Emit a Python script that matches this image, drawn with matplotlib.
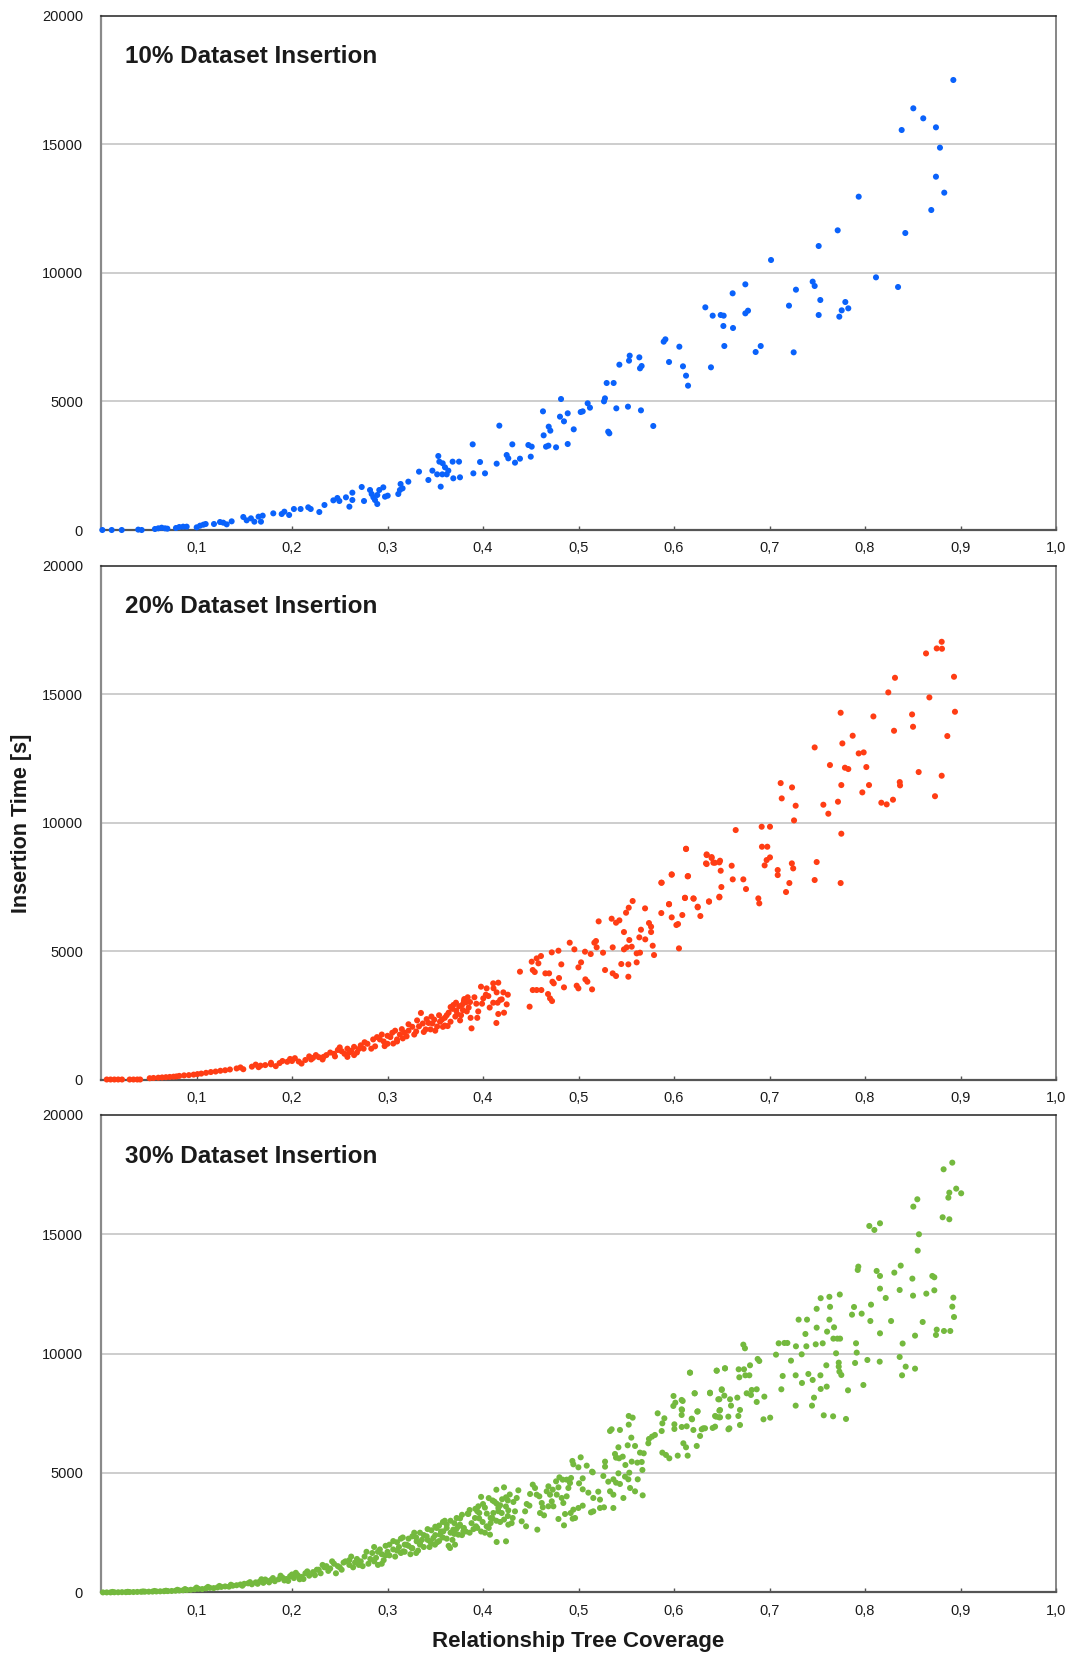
import matplotlib
matplotlib.use("Agg")
import matplotlib.pyplot as plt

plt.rcParams['font.family'] = ['Liberation Sans', 'DejaVu Sans']

# ---------------- data ----------------
panel_titles = ["10% Dataset Insertion", "20% Dataset Insertion", "30% Dataset Insertion"]
panel_colors = ["#0a62fb", "#ff3d14", "#74b93e"]
x_ticks = [0.1, 0.2, 0.3, 0.4, 0.5, 0.6, 0.7, 0.8, 0.9, 1.0]
x_tick_labels = ["0,1", "0,2", "0,3", "0,4", "0,5", "0,6", "0,7", "0,8", "0,9", "1,0"]
y_ticks = [0, 5000, 10000, 15000, 20000]
y_tick_labels = ["0", "5000", "10000", "15000", "20000"]
x_label = "Relationship Tree Coverage"
y_label = "Insertion Time [s]"

pts10 = [
    (0.0014, 0), (0.0112, 0), (0.0217, 0), (0.039, 15), (0.0426, 0), (0.0565, 39), (0.06, 65),
    (0.0635, 90), (0.067, 65), (0.0695, 52), (0.0785, 78), (0.082, 117), (0.086, 130), (0.0897, 130),
    (0.1002, 104), (0.1037, 168), (0.1072, 207), (0.1096, 233), (0.1183, 233), (0.1246, 311),
    (0.128, 285), (0.1316, 220), (0.1368, 337), (0.149, 506), (0.1525, 376), (0.157, 454),
    (0.1606, 324), (0.165, 519), (0.1675, 324), (0.1693, 558), (0.1804, 648), (0.1892, 622),
    (0.192, 713), (0.197, 584), (0.202, 817), (0.209, 817), (0.217, 882), (0.2196, 817),
    (0.2286, 700), (0.234, 973), (0.2433, 1154), (0.2475, 1245), (0.2496, 1128), (0.2565, 1271),
    (0.2601, 908), (0.2632, 1453), (0.2632, 1167), (0.273, 1673), (0.2754, 1128), (0.2817, 1556),
    (0.2834, 1401), (0.2852, 1271), (0.2869, 1167), (0.2893, 1011), (0.2914, 1556), (0.2956, 1660),
    (0.2974, 1297), (0.3002, 1336), (0.2893, 1362), (0.3113, 1401), (0.313, 1556), (0.3158, 1621),
    (0.3137, 1790), (0.3218, 1881), (0.333, 2270), (0.3428, 1946), (0.347, 2309), (0.3532, 2879),
    (0.3543, 2659), (0.3578, 2595), (0.3602, 2439), (0.352, 2166), (0.3557, 1686), (0.3574, 2166),
    (0.362, 2166), (0.3637, 2309), (0.3682, 2659), (0.3689, 2011), (0.3749, 2659), (0.3759, 2050),
    (0.3892, 3333), (0.3899, 2205), (0.3969, 2646), (0.4021, 2205), (0.4143, 2581), (0.4171, 4060),
    (0.4248, 2918), (0.4265, 2788), (0.4307, 3333), (0.4335, 2620), (0.4387, 2775), (0.4475, 3307),
    (0.451, 3243), (0.45, 2853), (0.466, 3243), (0.4685, 3282), (0.4765, 3217), (0.4887, 3346),
    (0.8925, 17510), (0.8506, 16408), (0.861, 16018), (0.8384, 15564), (0.8743, 15668),
    (0.8785, 14877), (0.8743, 13748), (0.883, 13126), (0.8694, 12451), (0.8422, 11556),
    (0.7934, 12970), (0.7714, 11660), (0.7515, 11050), (0.7016, 10506), (0.8115, 9831),
    (0.8346, 9455), (0.7452, 9663), (0.7473, 9494), (0.7277, 9351), (0.7532, 8949), (0.7204, 8729),
    (0.7515, 8366), (0.7794, 8871), (0.7756, 8547), (0.7825, 8625), (0.7731, 8301), (0.7253, 6913),
    (0.6747, 9559), (0.6614, 9209), (0.6775, 8534), (0.6747, 8430), (0.6328, 8664), (0.6405, 8340),
    (0.6489, 8366), (0.652, 8340), (0.6517, 7938), (0.6618, 7860), (0.6527, 7159), (0.6908, 7159),
    (0.6855, 6926), (0.6387, 6330), (0.6056, 7133), (0.5892, 7328), (0.591, 7419), (0.5948, 6537),
    (0.6094, 6369), (0.6126, 6005), (0.6147, 5616), (0.5428, 6433), (0.5529, 6589), (0.5536, 6784),
    (0.5637, 6718), (0.5644, 6291), (0.5661, 6381), (0.5295, 5720), (0.5368, 5720), (0.5277, 5123),
    (0.5267, 5006), (0.4817, 5097), (0.5396, 4734), (0.5518, 4799), (0.5654, 4656), (0.5783, 4047),
    (0.5323, 3761), (0.5311, 3826), (0.5096, 4929), (0.512, 4760), (0.5023, 4591), (0.5044, 4617),
    (0.4887, 4540), (0.4806, 4410), (0.4848, 4228), (0.4628, 4617), (0.495, 3917), (0.4688, 4021),
    (0.4705, 3865), (0.4635, 3683),
]

pts20 = [
    (0.006, 0), (0.010, 0), (0.014, 0), (0.018, 0), (0.022, 0), (0.030, 0), (0.034, 0), (0.038, 0),
    (0.041, 0), (0.051, 50), (0.055, 60), (0.060, 70), (0.064, 80), (0.068, 90), (0.072, 100),
    (0.076, 110), (0.079, 120), (0.082, 140), (0.087, 160), (0.092, 170), (0.097, 190), (0.101, 210),
    (0.105, 230), (0.110, 260), (0.115, 290), (0.120, 310), (0.125, 340), (0.130, 360), (0.135, 390),
    (0.142, 430), (0.146, 470), (0.149, 400), (0.158, 500), (0.162, 580), (0.167, 540), (0.172, 560),
    (0.178, 590), (0.183, 520), (0.187, 640), (0.190, 720), (0.195, 690), (0.198, 800),
    (0.203, 830), (0.207, 700), (0.210, 620), (0.214, 760), (0.218, 900), (0.222, 840), (0.225, 950),
    (0.228, 870), (0.232, 780), (0.236, 950), (0.240, 1050), (0.244, 1000), (0.248, 1150),
    (0.252, 1100), (0.255, 1000), (0.258, 1200), (0.262, 1120), (0.265, 1270), (0.268, 1050),
    (0.270, 1190), (0.265, 950), (0.258, 880), (0.272, 1330), (0.279, 1390), (0.285, 1560),
    (0.287, 1290), (0.292, 1560), (0.296, 1480), (0.300, 1700), (0.303, 1650), (0.305, 1820),
    (0.308, 1900), (0.310, 1560), (0.313, 1750), (0.315, 1960), (0.318, 1820), (0.300, 1390),
    (0.297, 1300), (0.310, 1480), (0.320, 1680), (0.322, 1900), (0.326, 2050), (0.330, 1870),
    (0.333, 2070), (0.337, 2180), (0.340, 1950), (0.343, 2200), (0.347, 2180), (0.349, 2330),
    (0.352, 2060), (0.355, 2250), (0.357, 2330), (0.360, 2400), (0.360, 2100), (0.335, 2590),
    (0.345, 1950), (0.363, 2080), (0.364, 2600), (0.368, 2750), (0.372, 2680), (0.375, 2850),
    (0.378, 2900), (0.382, 3000), (0.385, 2800), (0.388, 1990), (0.371, 2450), (0.377, 2500),
    (0.380, 3050), (0.383, 2650), (0.376, 2300), (0.394, 2400), (0.414, 2200), (0.416, 2550),
    (0.395, 2650),
    (0.283, 1200), (0.289, 1650), (0.294, 1750), (0.306, 1400), (0.316, 1600), (0.322, 2150),
    (0.328, 1750), (0.331, 2300), (0.338, 1850), (0.341, 2350), (0.346, 2450), (0.350, 1900),
    (0.354, 2500), (0.358, 2050), (0.362, 2500), (0.366, 2250), (0.369, 2900), (0.373, 2550),
    (0.379, 2700), (0.384, 3200), (0.387, 2400), (0.391, 3200), (0.393, 2950), (0.399, 2950),
    (0.403, 3300), (0.407, 2800), (0.411, 3550), (0.418, 3100), (0.422, 2600), (0.426, 3300),
    (0.245, 900), (0.250, 1250), (0.260, 1050), (0.275, 1200), (0.276, 1450), (0.220, 780),
    (0.233, 880), (0.200, 720), (0.178, 650), (0.165, 480),
    (0.3979, 3612), (0.4038, 3547), (0.4107, 3742), (0.416, 3768), (0.4143, 3391), (0.4213, 3391),
    (0.4003, 3157), (0.4056, 3248), (0.4107, 2989), (0.4153, 2989), (0.4196, 3118), (0.4248, 2924),
    (0.3717, 2989), (0.3804, 3131), (0.3864, 3014), (0.3661, 2820),
    (0.6126, 8969), (0.6342, 8735), (0.6394, 8618), (0.6429, 8436), (0.6342, 8385), (0.6475, 8450),
    (0.5976, 7970), (0.6143, 7905), (0.5867, 7659), (0.6115, 7062), (0.6206, 7036), (0.6366, 6933),
    (0.6475, 7088), (0.5567, 6946), (0.5526, 6686), (0.5498, 6491), (0.5697, 6660), (0.5948, 6829),
    (0.6248, 6699), (0.5867, 6478), (0.6087, 6401), (0.6276, 6362), (0.5976, 6310), (0.6025, 6012),
    (0.6042, 6050), (0.5211, 6154), (0.5347, 6258), (0.5393, 6102), (0.5428, 6193), (0.5476, 5739),
    (0.5738, 6089), (0.5654, 5830), (0.576, 5947), (0.576, 5739), (0.5532, 5428), (0.5637, 5532),
    (0.5699, 5454), (0.5777, 5207), (0.5791, 4844), (0.6052, 5104), (0.5183, 5389), (0.5166, 5324),
    (0.519, 5143), (0.5358, 5143), (0.5476, 5065), (0.5504, 5143), (0.5557, 5168), (0.5609, 4909),
    (0.5644, 4935), (0.5609, 4559), (0.5448, 4494), (0.5522, 4481), (0.5522, 4000), (0.5257, 4935),
    (0.5278, 4261), (0.5358, 4131), (0.5393, 4027), (0.5128, 4883), (0.5068, 4974), (0.4908, 5324),
    (0.4957, 5065), (0.5027, 4559), (0.4999, 4364), (0.5072, 3897), (0.5093, 3806), (0.5142, 3508),
    (0.4981, 3651), (0.4999, 3547), (0.4820, 4481), (0.4796, 3949), (0.4848, 3586), (0.479, 5013),
    (0.4720, 4948), (0.4607, 4805), (0.4562, 4714), (0.458, 4520), (0.451, 4585), (0.4521, 4261),
    (0.4542, 4183), (0.4653, 4131), (0.4692, 4131), (0.4387, 4196), (0.4727, 3806), (0.4741, 3742),
    (0.4521, 3482), (0.4562, 3482), (0.4611, 3482), (0.4681, 3326), (0.4702, 3157), (0.4723, 3054),
    (0.4488, 2834),
    (0.8803, 17035), (0.8751, 16777), (0.8806, 16764), (0.8639, 16582), (0.8932, 15674),
    (0.8314, 15634), (0.8244, 15065), (0.8674, 14870), (0.7745, 14273), (0.8088, 14130),
    (0.8493, 14208), (0.8942, 14312), (0.8503, 13728), (0.8304, 13572), (0.8862, 13366),
    (0.7871, 13379), (0.7473, 12924), (0.7763, 13080), (0.7934, 12691), (0.7986, 12730),
    (0.7633, 12237), (0.779, 12134), (0.7825, 12082), (0.8014, 12160), (0.8562, 11965),
    (0.8803, 11822), (0.7752, 11459), (0.8042, 11459), (0.8364, 11575), (0.8367, 11446),
    (0.7972, 11174), (0.7117, 11536), (0.7236, 11368), (0.7128, 10940), (0.7274, 10655),
    (0.7257, 10084), (0.7564, 10694), (0.7616, 10344), (0.7717, 10811), (0.7752, 9566),
    (0.8171, 10772), (0.8227, 10707), (0.8293, 10889), (0.8733, 11025), (0.6646, 9708),
    (0.6918, 9838), (0.7005, 9838), (0.6921, 9059), (0.6977, 9059), (0.7005, 8644), (0.697, 8540),
    (0.6949, 8333), (0.6126, 8982), (0.6342, 8761), (0.6394, 8657), (0.6335, 8411), (0.6412, 8437),
    (0.6482, 8515), (0.6489, 8125), (0.6604, 8320), (0.6615, 7789), (0.6726, 7789), (0.6754, 7412),
    (0.6496, 7491), (0.6475, 7114), (0.6367, 6919), (0.6248, 6725), (0.6203, 7049), (0.6115, 7075),
    (0.6147, 7918), (0.5976, 7984), (0.5871, 7659), (0.5948, 6816), (0.6883, 7049), (0.6893, 6855),
    (0.7086, 8152), (0.7086, 7956), (0.7234, 8411), (0.7248, 8216), (0.7208, 7646), (0.7173, 7296),
    (0.7494, 8463), (0.7473, 7763), (0.7745, 7646),
]

pts30 = [
    (0.002, 0), (0.006, 0), (0.010, 0), (0.014, 5), (0.018, 5), (0.022, 10), (0.026, 10), (0.030, 15),
    (0.034, 15), (0.038, 20), (0.042, 25), (0.046, 30), (0.050, 30), (0.054, 35), (0.058, 40),
    (0.062, 45), (0.066, 50), (0.070, 55), (0.074, 60), (0.078, 70), (0.082, 80), (0.086, 90),
    (0.090, 100), (0.012, 20), (0.028, 25), (0.044, 40), (0.056, 60), (0.068, 70), (0.080, 110),
    (0.088, 140), (0.094, 110), (0.098, 130), (0.102, 150), (0.106, 140), (0.110, 170), (0.114, 190),
    (0.118, 180), (0.122, 210), (0.126, 230), (0.130, 250), (0.134, 240), (0.138, 280), (0.142, 300),
    (0.100, 200), (0.112, 230), (0.124, 270), (0.136, 320), (0.146, 330), (0.150, 360), (0.154, 380),
    (0.158, 340), (0.162, 420), (0.166, 450), (0.170, 400), (0.174, 480), (0.178, 520), (0.182, 470),
    (0.148, 280), (0.156, 430), (0.164, 360), (0.172, 540), (0.180, 600), (0.186, 550), (0.190, 620),
    (0.194, 560), (0.198, 680), (0.202, 600), (0.206, 720), (0.210, 650), (0.214, 800), (0.218, 700),
    (0.188, 700), (0.196, 480), (0.204, 820), (0.212, 560), (0.216, 880), (0.222, 850), (0.226, 950),
    (0.230, 800), (0.234, 1050), (0.238, 900), (0.224, 720), (0.232, 1150), (0.240, 1000),
    (0.244, 1200), (0.248, 1100), (0.252, 950), (0.256, 1300), (0.260, 1150), (0.264, 1050),
    (0.268, 1400), (0.246, 800), (0.254, 1250), (0.262, 1500), (0.266, 1250), (0.242, 1300),
    (0.272, 1300), (0.276, 1500), (0.280, 1200), (0.284, 1650), (0.288, 1450), (0.292, 1800),
    (0.296, 1350), (0.300, 1700), (0.274, 1100), (0.282, 1400), (0.290, 1150), (0.298, 1950),
    (0.302, 1550), (0.286, 1900), (0.278, 1700), (0.294, 1600), (0.306, 1800), (0.310, 2100),
    (0.314, 1650), (0.318, 2000), (0.322, 2250), (0.326, 1850), (0.330, 2300), (0.334, 2050),
    (0.338, 2400), (0.308, 1500), (0.316, 2300), (0.324, 1600), (0.332, 1750), (0.336, 2200),
    (0.312, 1900), (0.328, 2500), (0.342, 2200), (0.346, 2600), (0.350, 2400), (0.354, 2800),
    (0.358, 2300), (0.362, 2700), (0.366, 2500), (0.370, 2900), (0.344, 1900), (0.352, 2100),
    (0.360, 3000), (0.368, 2200), (0.356, 2550), (0.364, 1950), (0.372, 2650), (0.376, 3100),
    (0.380, 2700), (0.384, 3300), (0.388, 2900), (0.392, 3500), (0.396, 3100), (0.400, 3700),
    (0.404, 3300), (0.408, 2900), (0.412, 3800), (0.416, 3400), (0.420, 3900), (0.424, 3600),
    (0.428, 4100), (0.378, 2400), (0.386, 2500), (0.394, 2700), (0.402, 2500), (0.410, 3100),
    (0.418, 2950), (0.426, 3200), (0.398, 4000), (0.406, 3950), (0.414, 4300), (0.422, 4400),
    (0.302, 2000), (0.306, 2150), (0.310, 1750), (0.314, 2250), (0.318, 1700), (0.322, 1950),
    (0.326, 2350), (0.330, 1650), (0.334, 2500), (0.338, 1900), (0.342, 2650), (0.346, 2050),
    (0.350, 2750), (0.354, 2150), (0.358, 2950), (0.362, 2250), (0.366, 3000), (0.370, 2450),
    (0.374, 2750), (0.378, 3250), (0.382, 2550), (0.386, 3450), (0.390, 2650), (0.394, 3400),
    (0.398, 2550), (0.402, 3550), (0.406, 2700), (0.410, 3850), (0.414, 3000), (0.418, 3650),
    (0.422, 3050), (0.426, 3850), (0.430, 2900), (0.286, 1300), (0.290, 1700), (0.294, 1200),
    (0.298, 1550), (0.270, 1150), (0.260, 1350), (0.250, 1050), (0.236, 1100), (0.228, 950),
    (0.200, 750), (0.208, 550), (0.192, 500), (0.176, 420), (0.168, 550),
    (0.6168, 9201), (0.6447, 9285), (0.6534, 9383), (0.5995, 8225), (0.6217, 8337), (0.6377, 8365),
    (0.65, 8477), (0.6527, 8240), (0.6464, 8086), (0.6014, 7946), (0.5993, 7807), (0.6091, 8016),
    (0.6084, 7639), (0.6248, 7583), (0.6482, 7639), (0.644, 7360), (0.657, 6830), (0.6472, 7332),
    (0.5829, 7500), (0.5899, 7290), (0.5878, 7080), (0.5871, 6758), (0.6004, 7039), (0.6004, 6844),
    (0.6081, 6928), (0.6133, 6956), (0.6203, 6802), (0.6189, 7248), (0.6290, 6830), (0.6325, 6872),
    (0.6405, 6886), (0.6273, 6551), (0.6238, 6132), (0.6098, 6244), (0.6126, 6076), (0.6143, 5727),
    (0.6039, 5727), (0.5951, 5615), (0.5916, 5755), (0.5878, 5853), (0.577, 6523), (0.58, 6593),
    (0.5738, 6425), (0.5731, 6244), (0.5526, 7388), (0.5567, 7318), (0.5526, 7025), (0.533, 6759),
    (0.5347, 6830), (0.5434, 6802), (0.5553, 6481), (0.5515, 6160), (0.5592, 6132), (0.5644, 5853),
    (0.5683, 5825), (0.5662, 5462), (0.5669, 5127), (0.5616, 5434), (0.5557, 5476), (0.5491, 5336),
    (0.5463, 5685), (0.5418, 6076), (0.5382, 5797), (0.5393, 5643), (0.5425, 5615), (0.5278, 5476),
    (0.5278, 5266), (0.5260, 4875), (0.5312, 4637), (0.5365, 4735), (0.5393, 4595), (0.5434, 4540),
    (0.5365, 4093), (0.533, 4233), (0.5418, 4986), (0.5487, 4847), (0.5522, 4735), (0.5532, 5014),
    (0.5620, 4735), (0.5592, 4233), (0.5672, 4065), (0.554, 4372), (0.547, 3954), (0.5142, 5056),
    (0.5207, 4219), (0.5023, 5657), (0.4936, 5504), (0.4946, 5364), (0.4999, 5238), (0.5086, 5308),
    (0.5149, 5028), (0.5044, 4777), (0.5006, 4567), (0.5044, 4316), (0.5103, 4177), (0.5155, 3954),
    (0.5225, 3884), (0.5225, 3535), (0.5267, 3563), (0.5365, 3535), (0.5155, 3395), (0.5131, 3353),
    (0.5044, 3633), (0.4999, 3535), (0.4946, 3465), (0.4918, 3325), (0.4964, 3116), (0.4939, 3088),
    (0.4859, 3283), (0.4841, 3744), (0.4876, 4023), (0.4894, 4372), (0.4876, 4721), (0.4911, 4581),
    (0.4922, 4791), (0.4834, 4721), (0.4800, 4819), (0.4765, 4651), (0.4790, 4400), (0.4772, 4093),
    (0.4824, 3954), (0.4730, 4302), (0.4685, 4442), (0.4667, 4233), (0.4702, 4093), (0.4720, 3814),
    (0.4737, 3605), (0.4685, 3605), (0.4615, 3744), (0.4626, 3563), (0.4597, 3325), (0.4639, 3228),
    (0.4590, 4023), (0.4545, 4372), (0.4521, 4512), (0.4562, 4093), (0.4493, 4121), (0.4458, 3702),
    (0.4486, 3633), (0.4441, 3395), (0.4370, 4275), (0.4353, 3954), (0.4318, 3786), (0.4335, 3395),
    (0.4311, 3116), (0.4265, 3437), (0.4241, 3982), (0.4143, 3716), (0.4161, 3535), (0.4196, 3325),
    (0.4265, 2837), (0.4405, 2977), (0.4451, 2767), (0.4569, 2628), (0.4790, 3074), (0.4848, 2809),
    (0.4108, 3325), (0.4080, 3116), (0.4038, 2767), (0.3951, 3605), (0.3961, 3325), (0.3916, 3116),
    (0.3927, 2767), (0.3996, 2949), (0.3846, 3283), (0.3759, 2837), (0.3794, 2558), (0.3742, 2418),
    (0.3689, 2628), (0.3620, 2837), (0.3585, 2558), (0.3550, 2418), (0.3515, 2697), (0.3480, 2279),
    (0.3497, 1999), (0.3445, 2139), (0.3410, 2348), (0.3340, 1999), (0.3305, 2139), (0.3253, 1860),
    (0.3200, 1999), (0.3166, 1720), (0.3724, 3116), (0.3707, 1999), (0.3655, 1860), (0.4073, 2418),
    (0.4143, 2111), (0.4241, 2139),
    (0.8914, 17997), (0.8823, 17718), (0.8955, 16908), (0.9007, 16713), (0.8883, 16741),
    (0.8873, 16531), (0.8548, 16462), (0.8506, 16155), (0.8813, 15709), (0.8883, 15625),
    (0.8045, 15345), (0.8098, 15178), (0.8157, 15457), (0.8565, 14997), (0.8552, 14311),
    (0.7930, 13642), (0.7924, 13503), (0.8122, 13461), (0.8157, 13251), (0.8307, 13391),
    (0.8374, 13684), (0.8496, 13140), (0.8705, 13251), (0.8726, 13196), (0.8157, 12720),
    (0.8217, 12329), (0.8363, 12664), (0.8503, 12427), (0.8642, 12511), (0.8726, 12650),
    (0.8925, 12343), (0.8914, 11966), (0.8932, 11533), (0.7885, 11952), (0.7864, 11631),
    (0.7965, 11673), (0.8063, 12050), (0.8056, 11365), (0.8273, 11365), (0.8604, 11324),
    (0.8751, 11003), (0.8743, 10780), (0.8827, 10947), (0.8893, 10947), (0.8524, 10752),
    (0.8157, 10850), (0.8394, 10422), (0.8363, 9859), (0.8426, 9454), (0.8524, 9370), (0.8388, 9091),
    (0.8154, 9663), (0.8025, 9733), (0.7896, 9608), (0.7913, 10041), (0.7906, 10432), (0.7983, 8686),
    (0.7822, 8463), (0.7801, 7263), (0.7666, 7374), (0.7568, 7416), (0.7752, 9105), (0.7732, 9245),
    (0.7725, 9454), (0.7725, 9622), (0.7697, 10013), (0.7669, 10627), (0.7711, 10627),
    (0.7739, 10627), (0.7676, 11101), (0.7603, 10920), (0.7627, 11422), (0.7634, 11958),
    (0.7627, 12377), (0.7736, 12475), (0.7536, 12321), (0.7494, 11875), (0.7494, 11087),
    (0.7484, 10389), (0.7557, 10431), (0.7595, 9510), (0.7599, 8617), (0.7533, 9091), (0.7536, 8519),
    (0.7466, 8156), (0.7445, 7821), (0.7452, 8896), (0.7407, 9147), (0.7386, 10306), (0.7376, 10822),
    (0.7393, 11422), (0.7305, 11422), (0.7277, 10306), (0.7225, 9705), (0.7337, 9970), (0.734, 8770),
    (0.7274, 9091), (0.7274, 7821), (0.7187, 10445), (0.7156, 10445), (0.7096, 10431), (0.7068, 9956),
    (0.7138, 9063), (0.7124, 8505), (0.6946, 8198), (0.6893, 9691), (0.6876, 9775), (0.6796, 9510),
    (0.6789, 9091), (0.6733, 9342), (0.6677, 9342), (0.6684, 9008), (0.6726, 10375), (0.6743, 10222),
    (0.6747, 9091), (0.6534, 9384), (0.6447, 9286), (0.6167, 9203), (0.6216, 8338), (0.6377, 8338),
    (0.6500, 8505), (0.6475, 8087), (0.6587, 8087), (0.6597, 7821), (0.6663, 8156), (0.6761, 8338),
    (0.6814, 8477), (0.6866, 8505), (0.6866, 7975), (0.6806, 8268), (0.6691, 7640), (0.6674, 7388),
    (0.6569, 7360), (0.6482, 7332), (0.6430, 7388), (0.6475, 7611), (0.6244, 7569), (0.6185, 7276),
    (0.6080, 8059), (0.6080, 7667), (0.6080, 7430), (0.6937, 7248), (0.7007, 7318), (0.6691, 7011),
    (0.6430, 6941), (0.6307, 6872), (0.6580, 6872),
]

panel_points = [pts10, pts20, pts30]

# ---------------- layout ----------------
W, H = 1071, 1657
fig = plt.figure(figsize=(W / 100, H / 100), dpi=100)

# (top_px, bottom_px) for each panel
panel_px = [(16, 530), (565.6, 1079.5), (1114.8, 1592.4)]
left_px, right_px = 101, 1056
title_y = [0.922, 0.921, 0.912]

text_col = "#1a1a1a"
for i, (top, bot) in enumerate(panel_px):
    ax = fig.add_axes([left_px / W, (H - bot) / H, (right_px - left_px) / W, (bot - top) / H])
    xs = [p[0] for p in panel_points[i]]
    ys = [p[1] for p in panel_points[i]]
    ax.scatter(xs, ys, s=19, color=panel_colors[i], edgecolors="none", zorder=3, clip_on=False)
    ax.set_xlim(0, 1.0)
    ax.set_ylim(0, 20000)
    ax.set_xticks(x_ticks)
    ax.set_xticklabels(x_tick_labels, fontsize=10.5, color=text_col)
    ax.set_yticks(y_ticks)
    ax.set_yticklabels(y_tick_labels, fontsize=10.5, color=text_col)
    ax.tick_params(axis="x", direction="in", length=3, width=1, color="#555555", pad=8)
    ax.tick_params(axis="y", length=0, pad=13)
    for yv in y_ticks[1:-1]:
        ax.axhline(yv, color="#c9c9c9", lw=1.3, zorder=1)
    ax.spines["left"].set_color("#8a8a8a")
    ax.spines["left"].set_linewidth(1.6)
    ax.spines["bottom"].set_color("#555555")
    ax.spines["bottom"].set_linewidth(1.6)
    ax.spines["top"].set_color("#222222")
    ax.spines["top"].set_linewidth(1.1)
    ax.spines["right"].set_color("#666666")
    ax.spines["right"].set_linewidth(1.1)
    ax.text(0.025, title_y[i], panel_titles[i], transform=ax.transAxes, fontsize=17.5,
            fontweight="bold", color=text_col, va="center", ha="left")

fig.text(578 / W, 1 - 1642 / H, x_label, fontsize=16, fontweight="bold", color=text_col,
         ha="center", va="center")
fig.text(22 / W, 1 - 823 / H, y_label, fontsize=15.5, fontweight="bold", color=text_col,
         ha="center", va="center", rotation=90)

fig.savefig("out.png", dpi=100)
